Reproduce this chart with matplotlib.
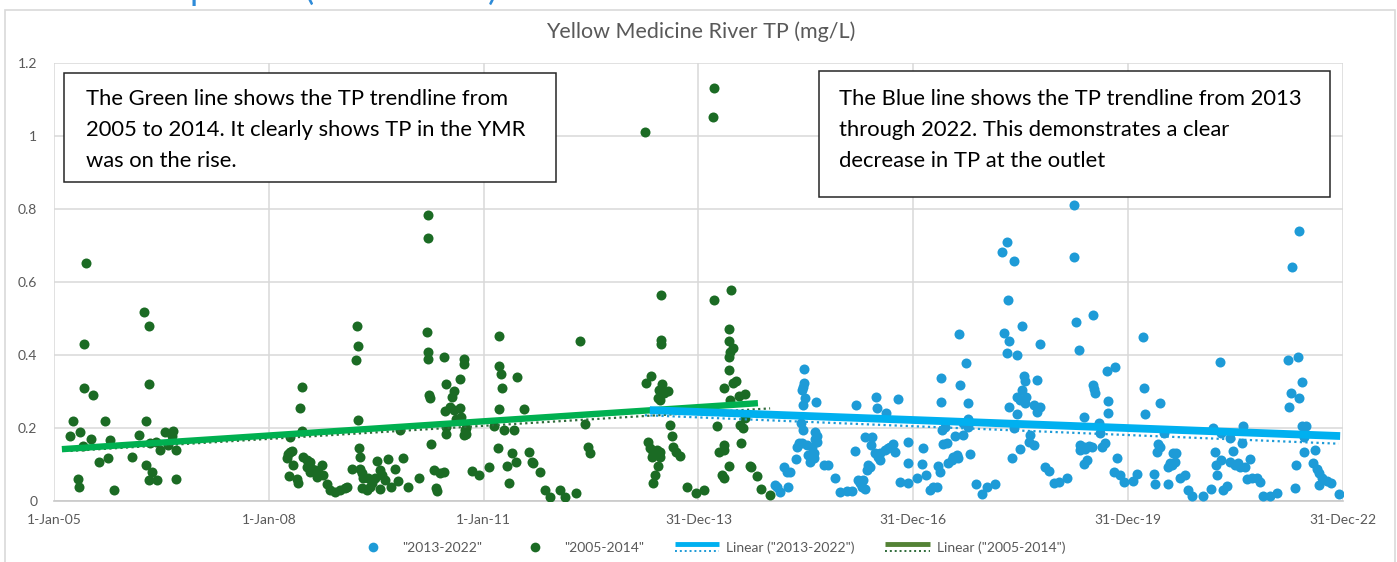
import numpy as np
import matplotlib
matplotlib.use("Agg")
import matplotlib.pyplot as plt
from matplotlib.lines import Line2D
from matplotlib.patches import Rectangle
from matplotlib.legend_handler import HandlerBase

# ---------------- data (decimal year, TP mg/L) ----------------
green_year = [
    2005.23, 2005.27, 2005.33, 2005.35, 2005.36, 2005.41, 2005.42, 2005.42, 2005.45, 2005.51,
    2005.54, 2005.63, 2005.71, 2005.76, 2005.78, 2005.84, 2006.09, 2006.18, 2006.25, 2006.28,
    2006.29, 2006.32, 2006.33, 2006.33, 2006.34, 2006.37, 2006.43, 2006.44, 2006.48, 2006.55,
    2006.59, 2006.65, 2006.66, 2006.70, 2006.71,
    2008.46, 2008.44, 2008.46, 2008.30, 2008.25, 2008.27, 2008.30, 2008.33, 2008.34, 2008.28,
    2008.40, 2008.41, 2008.48, 2008.53, 2008.58, 2008.53, 2008.60, 2008.65, 2008.58, 2008.69,
    2008.74, 2008.76, 2008.67, 2008.81, 2008.86, 2008.93, 2008.99, 2009.06, 2009.09,
    2009.23, 2009.24, 2009.22, 2009.25, 2009.26, 2009.27, 2009.16, 2009.27, 2009.30, 2009.32,
    2009.30, 2009.37, 2009.41, 2009.44, 2009.39, 2009.48, 2009.51, 2009.55, 2009.58, 2009.62,
    2009.55, 2009.67, 2009.76, 2009.70, 2009.80, 2009.87, 2009.95, 2009.83, 2010.09,
    2010.21, 2010.22, 2010.22, 2010.23, 2010.25, 2010.27, 2010.30, 2010.34, 2010.35, 2010.22,
    2010.22, 2010.45, 2010.48, 2010.59, 2010.56, 2010.67, 2010.72, 2010.73, 2010.46, 2010.53,
    2010.58, 2010.67, 2010.68, 2010.62, 2010.48, 2010.47, 2010.74, 2010.75, 2010.76, 2010.72,
    2010.44, 2010.39, 2010.84, 2010.94,
    2011.07, 2011.22, 2011.21, 2011.24, 2011.25, 2011.47, 2011.21, 2011.57, 2011.14, 2011.28,
    2011.42, 2011.20, 2011.39, 2011.45, 2011.32, 2011.63, 2011.67, 2011.69, 2011.79, 2011.36,
    2011.86, 2011.93, 2012.07, 2012.14, 2012.29, 2012.35, 2012.41, 2012.45, 2012.49,
    2013.25, 2013.48, 2013.47, 2013.48, 2013.33, 2013.27, 2013.49, 2013.58, 2013.45, 2013.44,
    2013.46, 2013.52, 2013.60, 2013.63, 2013.29, 2013.32, 2013.37, 2013.42, 2013.46, 2013.35,
    2013.46, 2013.65, 2013.69, 2013.74, 2013.43, 2013.39, 2013.37, 2013.84, 2013.97, 2014.07,
    2014.21, 2014.20, 2014.21, 2014.46, 2014.42, 2014.42, 2014.48, 2014.44, 2014.43, 2014.43,
    2014.53, 2014.48, 2014.36, 2014.56, 2014.65, 2014.44, 2014.65, 2014.58, 2014.62, 2014.26,
    2014.60, 2014.36, 2014.28, 2014.35, 2014.42, 2014.72, 2014.74, 2014.33, 2014.35, 2014.82,
    2014.87, 2015.00,
]
green_tp = [
    0.178, 0.218, 0.059, 0.039, 0.189, 0.150, 0.430, 0.310, 0.651, 0.169,
    0.290, 0.108, 0.218, 0.119, 0.167, 0.029, 0.121, 0.180, 0.519, 0.218,
    0.100, 0.058, 0.480, 0.320, 0.160, 0.080, 0.162, 0.058, 0.140, 0.190,
    0.153, 0.179, 0.193, 0.061, 0.140,
    0.313, 0.255, 0.193, 0.176, 0.117, 0.128, 0.134, 0.138, 0.099, 0.068,
    0.060, 0.050, 0.121, 0.112, 0.108, 0.094, 0.089, 0.085, 0.080, 0.080,
    0.099, 0.071, 0.067, 0.047, 0.030, 0.026, 0.030, 0.035, 0.039,
    0.479, 0.425, 0.386, 0.222, 0.146, 0.120, 0.089, 0.089, 0.078, 0.062,
    0.035, 0.030, 0.039, 0.050, 0.062, 0.062, 0.110, 0.085, 0.071, 0.058,
    0.032, 0.115, 0.089, 0.037, 0.055, 0.117, 0.039, 0.195, 0.064,
    0.462, 0.409, 0.388, 0.290, 0.281, 0.156, 0.085, 0.035, 0.027, 0.784,
    0.720, 0.395, 0.320, 0.302, 0.286, 0.333, 0.388, 0.375, 0.247, 0.258,
    0.249, 0.254, 0.229, 0.226, 0.204, 0.183, 0.195, 0.183, 0.199, 0.181,
    0.080, 0.076, 0.083, 0.071,
    0.094, 0.453, 0.370, 0.348, 0.310, 0.339, 0.252, 0.252, 0.205, 0.195,
    0.195, 0.144, 0.131, 0.106, 0.097, 0.134, 0.108, 0.103, 0.080, 0.050,
    0.030, 0.012, 0.030, 0.012, 0.021, 0.438, 0.211, 0.147, 0.131,
    1.012, 0.565, 0.441, 0.430, 0.342, 0.324, 0.320, 0.301, 0.304, 0.283,
    0.277, 0.297, 0.208, 0.178, 0.161, 0.144, 0.131, 0.140, 0.135, 0.121,
    0.121, 0.149, 0.135, 0.124, 0.096, 0.071, 0.050, 0.039, 0.021, 0.030,
    1.132, 1.051, 0.551, 0.578, 0.471, 0.439, 0.418, 0.409, 0.395, 0.359,
    0.330, 0.324, 0.309, 0.288, 0.292, 0.277, 0.228, 0.208, 0.199, 0.205,
    0.158, 0.153, 0.133, 0.140, 0.097, 0.097, 0.094, 0.071, 0.062, 0.069,
    0.032, 0.016,
]

# 2013-2022 series: samples after 2015 (2013-2014 samples are shared with the green series)
blue_year = [
    2015.09, 2015.14, 2015.25, 2015.07, 2015.20, 2015.23, 2015.28, 2015.36, 2015.40, 2015.37,
    2015.43, 2015.46, 2015.44, 2015.47, 2015.47, 2015.46, 2015.44, 2015.49, 2015.46, 2015.64,
    2015.63, 2015.66, 2015.63, 2015.65, 2015.58, 2015.61, 2015.58, 2015.56, 2015.61, 2015.51,
    2015.53, 2015.75, 2015.81, 2015.91, 2015.98, 2016.07, 2016.14,
    2016.20, 2016.19, 2016.33, 2016.42, 2016.41, 2016.23, 2016.26, 2016.30, 2016.33, 2016.28,
    2016.35, 2016.37, 2016.40, 2016.48, 2016.49, 2016.62, 2016.78, 2016.47, 2016.54, 2016.54,
    2016.51, 2016.61, 2016.65, 2016.71, 2016.75, 2016.68, 2016.92, 2016.93, 2016.82, 2016.92,
    2017.05, 2017.12, 2017.14, 2017.18, 2017.23, 2017.28, 2017.33,
    2017.35, 2017.37, 2017.38, 2017.38, 2017.40, 2017.44, 2017.42, 2017.47, 2017.49, 2017.54,
    2017.56, 2017.61, 2017.63, 2017.58, 2017.70, 2017.64, 2017.65, 2017.74, 2017.77, 2017.77,
    2017.75, 2017.70, 2017.77, 2017.79, 2017.87, 2017.96, 2018.03, 2018.14,
    2018.24, 2018.31, 2018.41, 2018.32, 2018.52, 2018.27, 2018.33, 2018.31, 2018.45, 2018.77,
    2018.54, 2018.56, 2018.73, 2018.52, 2018.45, 2018.49, 2018.58, 2018.56, 2018.68, 2018.77,
    2018.73, 2018.34, 2018.45, 2018.41, 2018.63, 2018.61, 2018.68, 2018.49, 2018.38, 2018.84,
    2018.89, 2018.96, 2019.03,
    2019.24, 2019.25, 2019.27, 2019.51, 2019.31, 2019.70, 2019.82, 2019.51, 2019.52, 2019.53,
    2019.72, 2019.72, 2019.39, 2019.59, 2019.60, 2019.33, 2019.38, 2019.45, 2019.49, 2019.33,
    2019.40, 2019.68, 2019.63, 2019.84, 2019.42, 2019.38, 2019.80, 2019.89, 2019.94, 2019.14,
    2020.07, 2020.13,
    2020.21, 2020.22, 2020.24, 2020.45, 2020.50, 2020.42, 2020.45, 2020.40, 2020.36, 2020.38,
    2020.56, 2020.63, 2020.67, 2020.66, 2020.59, 2020.56, 2020.61, 2020.73, 2020.80, 2020.84,
    2020.89, 2021.04, 2021.16, 2021.33, 2021.38,
    2021.28, 2021.19, 2021.29, 2021.21, 2021.22, 2021.29, 2021.24, 2021.42, 2021.46, 2021.42,
    2021.49, 2021.54, 2021.56, 2021.63, 2021.70, 2021.61, 2021.59, 2021.66, 2021.73, 2021.80,
    2021.84, 2021.88, 2021.98, 2022.08,
    2022.29, 2022.38, 2022.23, 2022.37, 2022.43, 2022.28, 2022.38, 2022.25, 2022.43, 2022.49,
    2022.45, 2022.46, 2022.61, 2022.35, 2022.58, 2022.64, 2022.66, 2022.70, 2022.78, 2022.83,
    2022.67, 2022.33, 2022.94,
]
blue_tp = [
    0.037, 0.024, 0.037, 0.045, 0.094, 0.080, 0.080, 0.114, 0.158, 0.149,
    0.213, 0.195, 0.158, 0.362, 0.322, 0.313, 0.304, 0.281, 0.263, 0.270,
    0.190, 0.179, 0.170, 0.163, 0.149, 0.131, 0.121, 0.108, 0.117, 0.153,
    0.126, 0.099, 0.100, 0.064, 0.026, 0.027, 0.028,
    0.263, 0.138, 0.176, 0.174, 0.153, 0.058, 0.048, 0.058, 0.032, 0.039,
    0.085, 0.099, 0.094, 0.286, 0.254, 0.240, 0.279, 0.131, 0.131, 0.112,
    0.121, 0.140, 0.144, 0.156, 0.135, 0.149, 0.161, 0.103, 0.053, 0.048,
    0.064, 0.101, 0.146, 0.070, 0.030, 0.037, 0.039,
    0.097, 0.080, 0.336, 0.270, 0.195, 0.202, 0.155, 0.158, 0.103, 0.112,
    0.121, 0.126, 0.117, 0.179, 0.181, 0.458, 0.318, 0.377, 0.269, 0.226,
    0.217, 0.213, 0.204, 0.129, 0.046, 0.019, 0.037, 0.046,
    0.682, 0.710, 0.658, 0.551, 0.479, 0.459, 0.439, 0.406, 0.400, 0.430,
    0.342, 0.330, 0.332, 0.304, 0.286, 0.277, 0.286, 0.268, 0.263, 0.258,
    0.245, 0.258, 0.237, 0.199, 0.181, 0.163, 0.153, 0.142, 0.119, 0.094,
    0.082, 0.048, 0.053,
    0.811, 0.669, 0.491, 0.510, 0.414, 0.356, 0.366, 0.318, 0.306, 0.297,
    0.275, 0.242, 0.231, 0.215, 0.185, 0.153, 0.149, 0.151, 0.149, 0.140,
    0.142, 0.160, 0.147, 0.117, 0.112, 0.101, 0.080, 0.071, 0.053, 0.062,
    0.056, 0.073,
    0.449, 0.310, 0.237, 0.269, 0.185, 0.156, 0.149, 0.135, 0.074, 0.046,
    0.046, 0.132, 0.131, 0.108, 0.103, 0.094, 0.099, 0.062, 0.071, 0.030,
    0.014, 0.014, 0.033, 0.030, 0.041,
    0.380, 0.201, 0.185, 0.133, 0.099, 0.112, 0.071, 0.172, 0.137, 0.108,
    0.099, 0.103, 0.094, 0.094, 0.114, 0.205, 0.158, 0.059, 0.062, 0.062,
    0.053, 0.015, 0.015, 0.023,
    0.642, 0.741, 0.386, 0.395, 0.327, 0.297, 0.281, 0.258, 0.205, 0.205,
    0.176, 0.133, 0.140, 0.099, 0.105, 0.089, 0.076, 0.062, 0.056, 0.048,
    0.044, 0.035, 0.018,
]
blue_series_start = 2013.25

# hand-drawn highlight lines (endpoints)
green_hl_year = [2005.11, 2014.83]
green_hl_tp = [0.142, 0.268]
blue_hl_year = [2013.32, 2022.96]
blue_hl_tp = [0.249, 0.178]

x_ticks = [2005, 2008, 2011, 2014, 2017, 2020, 2023]
x_labels = ["1-Jan-05", "1-Jan-08", "1-Jan-11", "31-Dec-13", "31-Dec-16", "31-Dec-19", "31-Dec-22"]
y_ticks = [0, 0.2, 0.4, 0.6, 0.8, 1.0, 1.2]
y_labels = ["0", "0.2", "0.4", "0.6", "0.8", "1", "1.2"]

title = "Yellow Medicine River TP (mg/L)"
note_green = ["The Green line shows the TP trendline from",
              "2005 to 2014. It clearly shows TP in the YMR",
              "was on the rise."]
note_blue = ["The Blue line shows the TP trendline from 2013",
             "through 2022. This demonstrates a clear",
             "decrease in TP at the outlet"]
heading = "Phosphorus (2005-2022)"

# ---------------- styling ----------------
GREEN_PT = "#1B6B24"
BLUE_PT = "#1E9BD7"
GREEN_HL = "#00B050"
BLUE_HL = "#00B0F0"
GREEN_TR = "#2F6B3A"
BLUE_TR = "#1E9BD7"
GRID = "#D9D9D9"
TXT = "#595959"
FONT = ["Lato", "DejaVu Sans"]
plt.rcParams["font.family"] = FONT

W, H = 1397, 562
fig = plt.figure(figsize=(W / 100, H / 100), dpi=100)

def fx(px):
    return px / W

def fy(py):
    return 1 - py / H

# chart-area border
fig.patches.append(Rectangle((fx(5), fy(575)), fx(1390), 575 / H - 10 / H,
                             transform=fig.transFigure, fill=False,
                             edgecolor=GRID, linewidth=1.2, zorder=0))

ax = fig.add_axes([fx(54), fy(501), fx(1343 - 54), (501 - 63) / H])

gy = np.array(green_year)
gt = np.array(green_tp)
shared = gy >= blue_series_start
by_full = np.concatenate([gy[shared], np.array(blue_year)])
bt_full = np.concatenate([gt[shared], np.array(blue_tp)])

ms = 52
ax.scatter(blue_year, blue_tp, s=ms, color=BLUE_PT, linewidths=0, zorder=3)
ax.scatter(gy, gt, s=ms, color=GREEN_PT, linewidths=0, zorder=4)

# linear trendlines (dotted)
for xs, ys, col in [(by_full, bt_full, BLUE_TR), (gy, gt, GREEN_TR)]:
    k, b = np.polyfit(xs, ys, 1)
    xx = np.array([xs.min(), xs.max()])
    ax.plot(xx, k * xx + b, color=col, lw=1.6, ls=(0, (1, 1.5)), zorder=5)

# thick highlight lines
ax.plot(green_hl_year, green_hl_tp, color=GREEN_HL, lw=4.6, solid_capstyle="butt", zorder=6)
ax.plot(blue_hl_year, blue_hl_tp, color=BLUE_HL, lw=5.6, solid_capstyle="butt", zorder=7)

ax.set_xlim(2005, 2023)
ax.set_ylim(0, 1.2)
ax.set_xticks(x_ticks)
ax.set_xticklabels(x_labels)
ax.set_yticks(y_ticks)
ax.set_yticklabels(y_labels)
ax.grid(True, color=GRID, lw=1.1, zorder=0)
ax.set_axisbelow(True)
for s in ["top", "right", "left"]:
    ax.spines[s].set_visible(False)
ax.spines["bottom"].set_color("#C8C8C8")
ax.spines["bottom"].set_linewidth(1.2)
ax.tick_params(axis="both", length=0, labelsize=10, labelcolor=TXT)
ax.tick_params(axis="x", pad=9)
ax.tick_params(axis="y", pad=12)

fig.text(fx(701), fy(32), title, ha="center", va="center", fontsize=15.5, color=TXT)

# heading fragment cut by the top edge (as in the source screenshot)
fig.text(fx(115), 1.0, heading, ha="left", va="baseline", fontsize=25, color="#2E8BD8")

# annotation boxes
def note_box(x0, y0, x1, y1, lines, tx):
    fig.patches.append(Rectangle((fx(x0), fy(y1)), fx(x1 - x0), (y1 - y0) / H,
                                 transform=fig.transFigure, facecolor="white",
                                 edgecolor="#262626", linewidth=1.1, zorder=8))
    for i, ln in enumerate(lines):
        fig.text(fx(tx), fy(97 + 31 * i), ln, ha="left", va="center_baseline",
                 fontsize=15.8, color="black", zorder=9)

note_box(64, 73, 556, 182, note_green, 86)
note_box(819, 71, 1330, 197, note_blue, 839)

# legend
class HandlerTrend(HandlerBase):
    def create_artists(self, legend, orig_handle, xdescent, ydescent, width, height, fontsize, trans):
        thick, dotted = orig_handle
        x = [-xdescent, -xdescent + width]
        l1 = Line2D(x, [height * 0.85 - ydescent] * 2, color=thick.get_color(),
                    lw=thick.get_linewidth(), solid_capstyle="butt")
        l2 = Line2D(x, [height * 0.15 - ydescent] * 2, color=dotted.get_color(),
                    lw=dotted.get_linewidth(), ls=(0, (1, 1.5)))
        for l in (l1, l2):
            l.set_transform(trans)
        return [l1, l2]

h_blue = Line2D([], [], marker="o", ls="none", color=BLUE_PT, markersize=7, markeredgewidth=0)
h_green = Line2D([], [], marker="o", ls="none", color=GREEN_PT, markersize=7, markeredgewidth=0)
h_blin = (Line2D([], [], color=BLUE_HL, lw=3.5), Line2D([], [], color=BLUE_TR, lw=1.4))
h_glin = (Line2D([], [], color="#548235", lw=3.5), Line2D([], [], color=GREEN_TR, lw=1.4))
leg = fig.legend([h_blue, h_green, h_blin, h_glin],
                 ['"2013-2022"', '"2005-2014"', 'Linear ("2013-2022")', 'Linear ("2005-2014")'],
                 loc="center", bbox_to_anchor=(fx(708), fy(548)), ncol=4, frameon=False,
                 fontsize=10, labelcolor=TXT, handlelength=3.2, handletextpad=0.5,
                 columnspacing=2.2, handler_map={tuple: HandlerTrend()})

fig.savefig("out.png", dpi=100)
